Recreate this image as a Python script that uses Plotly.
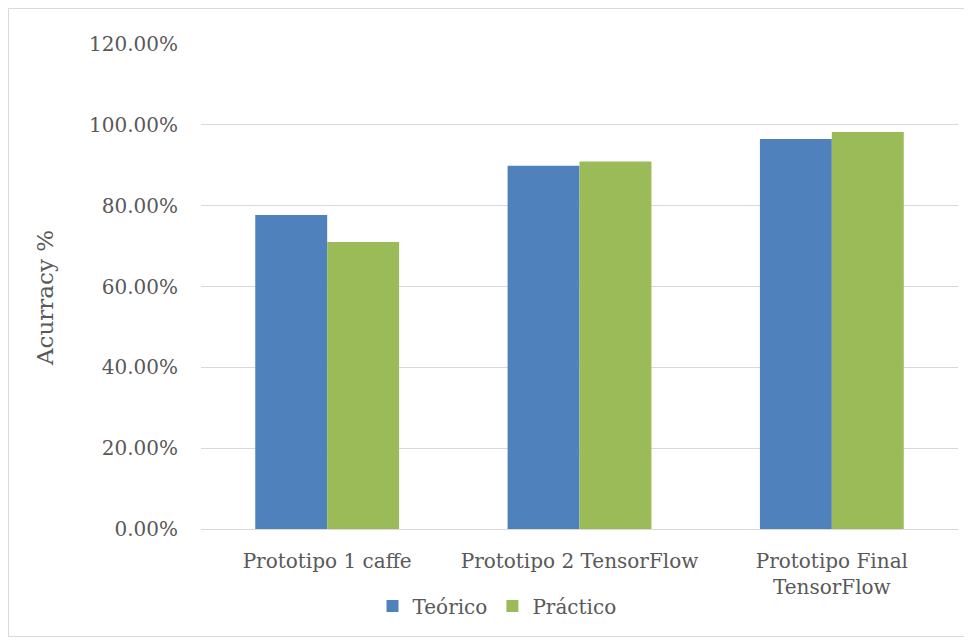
import plotly.graph_objects as go

categories = ["Prototipo 1 caffe", "Prototipo 2 TensorFlow", "Prototipo Final<br>TensorFlow"]
teorico = [0.777, 0.899, 0.965]
practico = [0.710, 0.909, 0.982]
series_names = ["Teórico", "Práctico"]
y_title = "Acurracy %"

# page body has an 8px margin: work in reference pixels, shifted by OFF
OFF = 8
W, H = 972 - OFF, 640 - OFF
L, R, T, B = 201 - OFF, 14, 44 - OFF, 111
pw, ph = W - L - R, H - T - B

def px_x(x):
    return (x - OFF - L) / pw

def px_y(y):
    return (H - B - (y - OFF)) / ph

FONT = "DejaVu Serif"
GREY = "#595959"
FS = 20

fig = go.Figure()
fig.add_trace(go.Bar(x=categories, y=teorico, name=series_names[0],
                     marker=dict(color="#4f81bd", line=dict(width=0))))
fig.add_trace(go.Bar(x=categories, y=practico, name=series_names[1],
                     marker=dict(color="#9bbb59", line=dict(width=0))))

fig.update_layout(
    width=W, height=H,
    margin=dict(l=L, r=R, t=T, b=B, autoexpand=False),
    paper_bgcolor="white", plot_bgcolor="white",
    barmode="group", bargap=0.43, bargroupgap=0,
    font=dict(family=FONT, size=FS, color=GREY),
    showlegend=True,
    legend=dict(orientation="h", x=px_x(497), xanchor="center",
                y=px_y(606), yanchor="middle",
                font=dict(family=FONT, size=FS, color=GREY),
                itemwidth=30, tracegroupgap=0, bgcolor="rgba(0,0,0,0)"),
    xaxis=dict(showgrid=False, showline=True, linecolor="#d9d9d9", linewidth=1,
               ticks="", ticklabelstandoff=14,
               tickfont=dict(family=FONT, size=FS, color=GREY)),
    yaxis=dict(range=[0, 1.2], dtick=0.2, tickformat=".2%",
               showgrid=True, gridcolor="#d9d9d9", gridwidth=1,
               zeroline=False, showline=False, ticks="",
               ticklabelstandoff=22,
               tickfont=dict(family=FONT, size=FS, color=GREY)),
    annotations=[dict(text=y_title, xref="paper", yref="paper",
                      x=px_x(45), y=px_y(298), xanchor="center", yanchor="middle",
                      textangle=-90, showarrow=False,
                      font=dict(family=FONT, size=23, color=GREY))],
    shapes=[dict(type="rect", xref="paper", yref="paper",
                 x0=px_x(8.5), x1=px_x(966.5), y0=px_y(636.5), y1=px_y(8.5),
                 line=dict(color="#d9d9d9", width=1), fillcolor="rgba(0,0,0,0)",
                 layer="below")],
)

fig.write_html("out.html")
